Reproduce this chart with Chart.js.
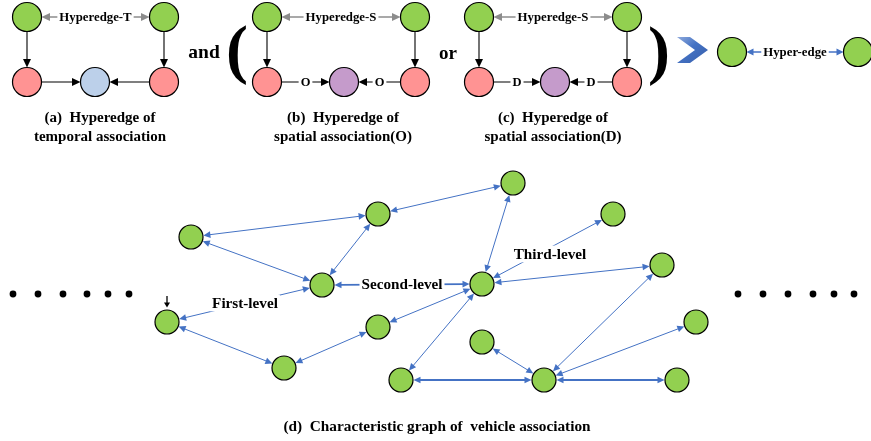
<!DOCTYPE html>
<html>
<head>
<meta charset="utf-8">
<script src="https://cdn.jsdelivr.net/npm/chart.js@4.4.1/dist/chart.umd.min.js"></script>
<style>
  html, body { margin: 0; padding: 0; background: #fff; }
  canvas { display: block; }
</style>
</head>
<body>
<canvas id="chart" width="871" height="441"></canvas>
<script>
// top row: hyperedge patterns (a), (b), (c) and the merged hyper-edge
const topNodeX = [27, 164, 27, 95, 164, 267, 415, 267, 344, 415, 479, 627, 479, 555, 627, 732, 858];
const topNodeY = [17, 17, 82, 82, 82, 17, 17, 82, 82, 82, 17, 17, 82, 82, 82, 52, 52];
const topNodeKind = ['g', 'g', 'p', 'b', 'p', 'g', 'g', 'p', 'v', 'p', 'g', 'g', 'p', 'v', 'p', 'g', 'g'];
// [from, to, heads ('end' | 'both'), colour kind, label]
const topEdges = [
  [0, 1, 'both', 'gray', 'Hyperedge-T'],
  [0, 2, 'end', 'black', ''],
  [1, 4, 'end', 'black', ''],
  [2, 3, 'end', 'black', ''],
  [4, 3, 'end', 'black', ''],
  [5, 6, 'both', 'gray', 'Hyperedge-S'],
  [5, 7, 'end', 'black', ''],
  [6, 9, 'end', 'black', ''],
  [7, 8, 'end', 'black', 'O'],
  [9, 8, 'end', 'black', 'O'],
  [10, 11, 'both', 'gray', 'Hyperedge-S'],
  [10, 12, 'end', 'black', ''],
  [11, 14, 'end', 'black', ''],
  [12, 13, 'end', 'black', 'D'],
  [14, 13, 'end', 'black', 'D'],
  [15, 16, 'both', 'blue', 'Hyper-edge']
];

// (d) characteristic graph
const graphNodeX = [191, 378, 513, 322, 482, 167, 378, 284, 482, 401, 613, 662, 696, 544, 677];
const graphNodeY = [237, 214, 183, 285, 284, 322, 327, 368, 342, 380, 214, 265, 322, 380, 380];
const graphEdges = [
  [0, 1], [0, 3], [1, 3], [1, 2],
  [3, 4], [3, 5],
  [5, 7], [7, 6], [6, 4], [4, 2],
  [4, 10], [4, 11], [4, 9],
  [9, 13], [8, 13], [11, 13], [12, 13], [13, 14]
];
const thickEdges = ['3-4', '9-13', '13-14'];
// labels sitting on graph edges: [text, x, y]
const graphLabels = [
  ['Second-level', 402, 284],
  ['First-level', 245, 303],
  ['Third-level', 550, 254]
];

const dotsLeftX = [13, 38, 63, 87, 108, 129];
const dotsRightX = [738, 763, 788, 813, 834, 854];
const dotsY = 294;

// free text: [text, x, y, size]
const texts = [
  ['(a)  Hyperedge of', 100, 118, 15],
  ['temporal association', 100, 137, 15],
  ['(b)  Hyperedge of', 343, 118, 15],
  ['spatial association(O)', 343, 137, 15],
  ['(c)  Hyperedge of', 553, 118, 15],
  ['spatial association(D)', 553, 137, 15],
  ['and', 204, 53, 19.5],
  ['or', 448, 54, 19],
  ['(d)  Characteristic graph of  vehicle association', 437, 427, 15.3]
];

const fillOf = { g: '#92D050', p: '#FF9393', b: '#BCD0EA', v: '#C59BCB' };
const strokeOf = { gray: '#8C8C8C', black: '#000000', blue: '#4472C4' };
const SERIF = '"Liberation Serif", "Times New Roman", serif';

function arrowHead(ctx, x, y, ang, len, half) {
  ctx.beginPath();
  ctx.moveTo(x, y);
  ctx.lineTo(x - len * Math.cos(ang) + half * Math.sin(ang), y - len * Math.sin(ang) - half * Math.cos(ang));
  ctx.lineTo(x - len * Math.cos(ang) - half * Math.sin(ang), y - len * Math.sin(ang) + half * Math.cos(ang));
  ctx.closePath();
  ctx.fill();
}

function drawEdge(ctx, x1, y1, x2, y2, r1, r2, both, color, width, head) {
  const ang = Math.atan2(y2 - y1, x2 - x1);
  const sx = x1 + Math.cos(ang) * r1, sy = y1 + Math.sin(ang) * r1;
  const ex = x2 - Math.cos(ang) * r2, ey = y2 - Math.sin(ang) * r2;
  ctx.strokeStyle = color;
  ctx.fillStyle = color;
  ctx.lineWidth = width;
  ctx.beginPath();
  ctx.moveTo(both ? sx + Math.cos(ang) * head[0] * 0.6 : sx, both ? sy + Math.sin(ang) * head[0] * 0.6 : sy);
  ctx.lineTo(ex - Math.cos(ang) * head[0] * 0.6, ey - Math.sin(ang) * head[0] * 0.6);
  ctx.stroke();
  arrowHead(ctx, ex, ey, ang, head[0], head[1]);
  if (both) arrowHead(ctx, sx, sy, ang + Math.PI, head[0], head[1]);
}

function labelBox(ctx, text, x, y, size) {
  ctx.font = 'bold ' + size + 'px ' + SERIF;
  const w = ctx.measureText(text).width;
  ctx.fillStyle = '#fff';
  ctx.fillRect(x - w / 2 - 2, y - size * 0.55, w + 4, size * 1.1);
  ctx.fillStyle = '#000';
  ctx.textAlign = 'center';
  ctx.textBaseline = 'middle';
  ctx.fillText(text, x, y + 1);
}

const diagramPlugin = {
  id: 'diagram',
  beforeDatasetsDraw(chart) {
    const ctx = chart.ctx;
    const xs = chart.scales.x, ys = chart.scales.y;
    ctx.save();
    topEdges.forEach(e => {
      const x1 = xs.getPixelForValue(topNodeX[e[0]]), y1 = ys.getPixelForValue(topNodeY[e[0]]);
      const x2 = xs.getPixelForValue(topNodeX[e[1]]), y2 = ys.getPixelForValue(topNodeY[e[1]]);
      const blue = e[3] === 'blue';
      drawEdge(ctx, x1, y1, x2, y2, 14.5, 14.5, e[2] === 'both', strokeOf[e[3]],
        e[3] === 'black' ? 1.1 : 1.4, blue ? [7, 3.5] : [8.5, 4]);
      if (e[4]) labelBox(ctx, e[4], (x1 + x2) / 2, (y1 + y2) / 2, e[4].length === 1 ? 12.5 : 12.8);
    });
    graphEdges.forEach(e => {
      const x1 = xs.getPixelForValue(graphNodeX[e[0]]), y1 = ys.getPixelForValue(graphNodeY[e[0]]);
      const x2 = xs.getPixelForValue(graphNodeX[e[1]]), y2 = ys.getPixelForValue(graphNodeY[e[1]]);
      const thick = thickEdges.includes(e[0] + '-' + e[1]);
      drawEdge(ctx, x1, y1, x2, y2, 12.5, 12.5, true, '#4472C4', thick ? 1.8 : 1, [7, 3.3]);
    });
    graphLabels.forEach(l => {
      labelBox(ctx, l[0], xs.getPixelForValue(l[1]), ys.getPixelForValue(l[2]), 15.2);
    });
    ctx.restore();
  },
  afterDatasetsDraw(chart) {
    const ctx = chart.ctx;
    const xs = chart.scales.x, ys = chart.scales.y;
    ctx.save();
    ctx.fillStyle = '#000';
    ctx.textAlign = 'center';
    ctx.textBaseline = 'middle';
    texts.forEach(t => {
      ctx.font = 'bold ' + t[3] + 'px ' + SERIF;
      ctx.fillText(t[0], xs.getPixelForValue(t[1]), ys.getPixelForValue(t[2]));
    });
    // big brackets
    ctx.font = 'bold 66px ' + SERIF;
    ctx.fillText('(', 237, 54);
    ctx.fillText(')', 659, 55);
    // small down arrow over the first-level node
    ctx.strokeStyle = '#000';
    ctx.lineWidth = 1.3;
    ctx.beginPath();
    ctx.moveTo(167, 296);
    ctx.lineTo(167, 303);
    ctx.stroke();
    arrowHead(ctx, 167, 307.5, Math.PI / 2, 5, 3);
    // blue chevron
    const g = ctx.createLinearGradient(677, 37, 700, 63);
    g.addColorStop(0, '#8FAADC');
    g.addColorStop(0.5, '#4472C4');
    g.addColorStop(1, '#3A63B0');
    ctx.fillStyle = g;
    ctx.beginPath();
    ctx.moveTo(677, 37); ctx.lineTo(690, 37); ctx.lineTo(708, 50);
    ctx.lineTo(690, 63); ctx.lineTo(677, 63); ctx.lineTo(695, 50);
    ctx.closePath();
    ctx.fill();
    // ellipsis dots
    ctx.fillStyle = '#000';
    dotsLeftX.concat(dotsRightX).forEach(x => {
      ctx.beginPath();
      ctx.arc(xs.getPixelForValue(x), ys.getPixelForValue(dotsY), 3.4, 0, Math.PI * 2);
      ctx.fill();
    });
    ctx.restore();
  }
};

new Chart(document.getElementById('chart'), {
  type: 'scatter',
  data: {
    datasets: [
      {
        data: topNodeX.map((x, i) => ({ x: x, y: topNodeY[i] })),
        pointRadius: 14.5,
        pointBackgroundColor: topNodeKind.map(k => fillOf[k]),
        pointBorderColor: '#000',
        pointBorderWidth: 1.2,
        clip: false
      },
      {
        data: graphNodeX.map((x, i) => ({ x: x, y: graphNodeY[i] })),
        pointRadius: 12,
        pointBackgroundColor: '#92D050',
        pointBorderColor: '#000',
        pointBorderWidth: 1.2,
        clip: false
      }
    ]
  },
  options: {
    responsive: false,
    animation: false,
    layout: { padding: 0, autoPadding: false },
    plugins: { legend: { display: false }, tooltip: { enabled: false } },
    scales: {
      x: { type: 'linear', min: 0, max: 871, display: false },
      y: { type: 'linear', min: 0, max: 441, reverse: true, display: false }
    }
  },
  plugins: [diagramPlugin]
});
</script>
</body>
</html>
